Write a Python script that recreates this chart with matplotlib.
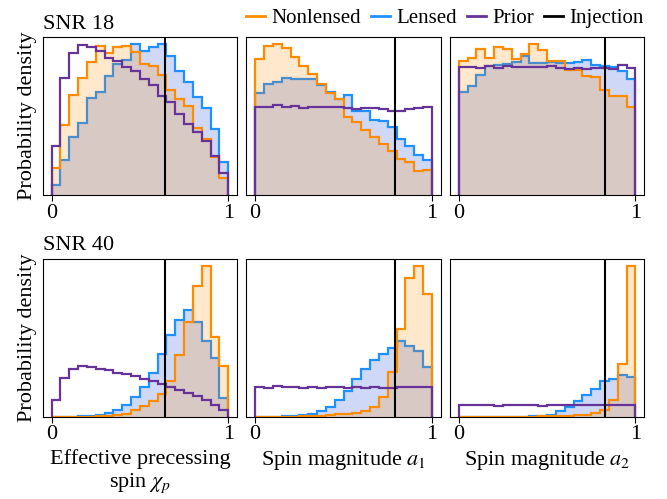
import numpy as np
import matplotlib
matplotlib.use("Agg")
import matplotlib.pyplot as plt
from matplotlib.lines import Line2D

plt.rcParams['font.family'] = ['Liberation Serif', 'DejaVu Serif']
plt.rcParams['mathtext.fontset'] = 'stix'
plt.rcParams['font.size'] = 16

# ---- data (bin heights, 20 bins on [0,1]) ----
edges = np.linspace(0, 1, 21)

# SNR 18
nl18_chi = [80, 208, 298, 348, 395, 443, 423, 440, 442, 425, 390, 383, 358, 313, 285, 266, 200, 166, 113, 53]
l18_chi = [30, 106, 173, 216, 288, 308, 355, 390, 403, 448, 430, 440, 448, 413, 368, 338, 291, 260, 196, 100]
pr18_chi = [146, 348, 423, 446, 440, 428, 408, 398, 381, 370, 345, 328, 295, 278, 243, 213, 188, 160, 118, 66]

nl18_a1 = [406, 446, 450, 438, 413, 385, 361, 331, 305, 288, 233, 220, 195, 175, 153, 131, 108, 98, 73, 75]
l18_a1 = [306, 333, 338, 350, 348, 348, 348, 328, 308, 288, 298, 253, 253, 226, 221, 203, 168, 148, 121, 105]
pr18_a1 = [265, 263, 268, 264, 266, 262, 264, 265, 263, 264, 262, 259, 260, 262, 258, 253, 253, 258, 260, 264]

nl18_a2 = [400, 408, 435, 408, 440, 435, 405, 421, 448, 431, 398, 398, 373, 373, 353, 350, 313, 295, 295, 263]
l18_a2 = [306, 325, 358, 383, 388, 391, 395, 415, 393, 393, 395, 393, 393, 395, 401, 388, 383, 381, 368, 345]
pr18_a2 = [380, 380, 378, 385, 378, 383, 380, 380, 382, 380, 383, 378, 376, 378, 375, 378, 378, 376, 386, 378]

# SNR 40
nl40_chi = [0, 0, 0, 1, 1, 2, 3, 5, 10, 20, 33, 48, 70, 108, 186, 285, 391, 451, 241, 152]
l40_chi = [0, 0.5, 1, 2, 4, 7, 12, 21, 37, 59, 90, 132, 190, 247, 290, 320, 285, 227, 177, 57]
pr40_chi = [50, 117, 145, 152, 150, 145, 140, 133, 128, 123, 115, 107, 98, 91, 81, 72, 64, 52, 35, 20]

nl40_a1 = [0, 0, 1, 1, 1, 2, 3, 4, 6, 8, 10, 12, 17, 31, 60, 136, 263, 416, 451, 368]
l40_a1 = [0, 0, 1, 2, 3, 6, 10, 18, 31, 52, 78, 114, 144, 171, 188, 206, 227, 213, 198, 150]
pr40_a1 = [90, 88, 92, 90, 90, 88, 90, 88, 90, 90, 88, 90, 88, 89, 88, 88, 90, 90, 90, 90]

nl40_a2 = [0, 0, 0, 0, 1, 1, 1, 1, 1, 2, 2, 3, 4, 5, 7, 11, 20, 52, 158, 451]
l40_a2 = [0, 0, 0, 0, 1, 1, 1, 1, 2, 4, 7, 17, 30, 47, 67, 85, 107, 115, 125, 120]
pr40_a2 = [35, 36, 35, 36, 34, 35, 36, 35, 35, 34, 35, 36, 35, 35, 36, 35, 35, 36, 35, 35]

injection = [0.64, 0.79, 0.83]
xlabels = ["Effective precessing\nspin $\\chi_p$", "Spin magnitude $a_1$", "Spin magnitude $a_2$"]
row_titles = ["SNR 18", "SNR 40"]

panels = [
    [(nl18_chi, l18_chi, pr18_chi), (nl18_a1, l18_a1, pr18_a1), (nl18_a2, l18_a2, pr18_a2)],
    [(nl40_chi, l40_chi, pr40_chi), (nl40_a1, l40_a1, pr40_a1), (nl40_a2, l40_a2, pr40_a2)],
]

C_NL = '#ff8c00'
C_L = '#1e90ff'
C_L_FILL = '#4169e1'
C_PR = '#663399'

fig, axes = plt.subplots(2, 3, figsize=(6.67, 4.99), dpi=100)
fig.subplots_adjust(left=0.064, right=0.966, top=0.926, bottom=0.164, wspace=0.048, hspace=0.40)

for r in range(2):
    for c in range(3):
        ax = axes[r, c]
        nl, l, pr = panels[r][c]
        ax.stairs(l, edges, fill=True, color=C_L_FILL, alpha=0.25, lw=0)
        ax.stairs(l, edges, color=C_L, lw=1.6)
        ax.stairs(nl, edges, fill=True, color=C_NL, alpha=0.2, lw=0)
        ax.stairs(nl, edges, color=C_NL, lw=1.6)
        ax.stairs(pr, edges, color=C_PR, lw=1.6)
        ax.axvline(injection[c], color='k', lw=1.5)
        ymax = max(max(nl), max(l), max(pr))
        ax.set_ylim(0, ymax * 1.05)
        ax.set_xlim(-0.05, 1.05)
        ax.set_xticks([0, 1])
        ax.set_xticklabels(["0", "1"])
        ax.set_yticks([])
        ax.tick_params(axis='x', direction='out', length=4, pad=2)
        if c == 0:
            ax.set_ylabel("Probability density")
            ax.set_title(row_titles[r], loc='left', fontsize=16, pad=6)
        if r == 1:
            ax.set_xlabel(xlabels[c], labelpad=3)

handles = [Line2D([], [], color=C_NL, lw=2), Line2D([], [], color=C_L, lw=2),
           Line2D([], [], color=C_PR, lw=2), Line2D([], [], color='k', lw=2)]
fig.legend(handles, ["Nonlensed", "Lensed", "Prior", "Injection"], loc='upper right',
           bbox_to_anchor=(0.993, 1.02), ncol=4, frameon=False, fontsize=15,
           handlelength=0.9, handletextpad=0.3, columnspacing=0.5)

fig.savefig("out.png", dpi=100)
